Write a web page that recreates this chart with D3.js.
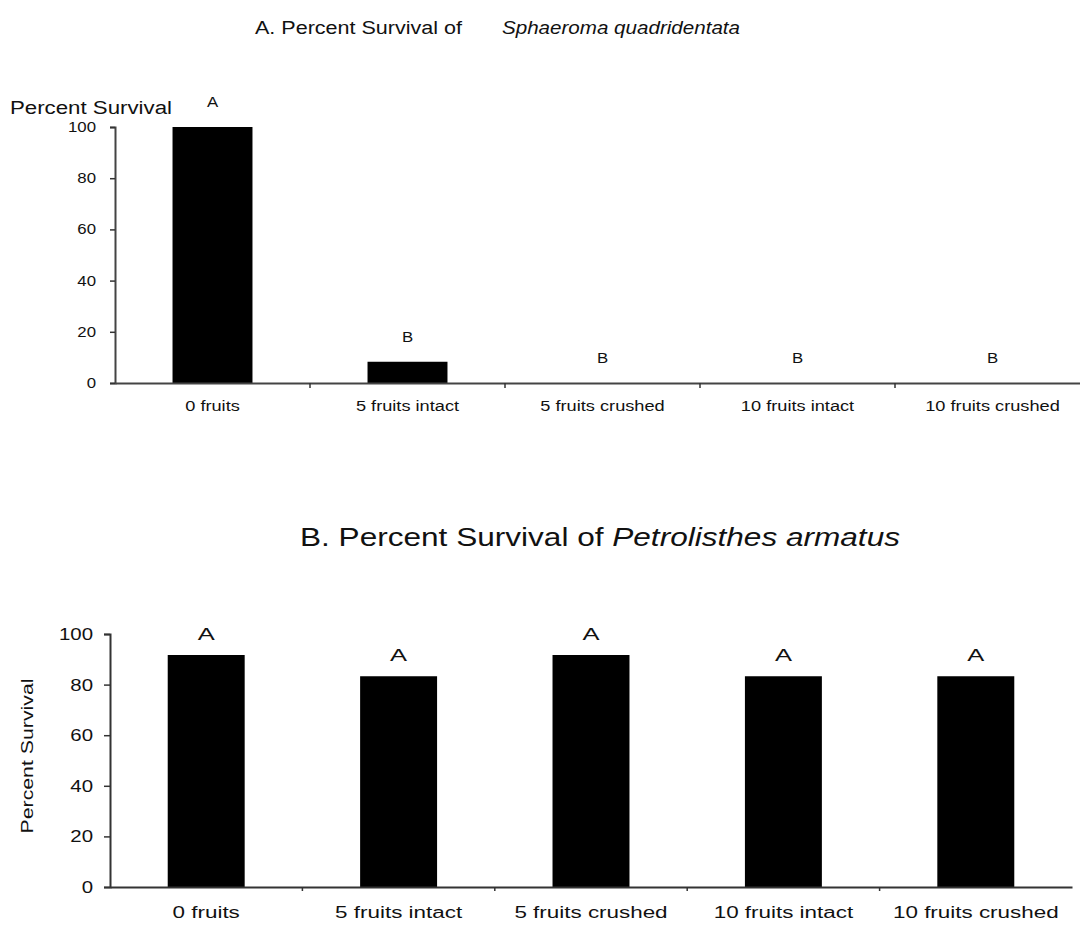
<!DOCTYPE html>
<html>
<head>
<meta charset="utf-8">
<script src="https://cdn.jsdelivr.net/npm/d3@7"></script>
<style>
  body { margin: 0; background: #fff; }
  svg text { font-family: "Liberation Sans", Arial, sans-serif; fill: #111; }
</style>
</head>
<body>
<script>
// treatments (same in both panels)
var categories = ['0 fruits', '5 fruits intact', '5 fruits crushed', '10 fruits intact', '10 fruits crushed'];
// A: Sphaeroma quadridentata
var survivalA = [100, 8.3, 0, 0, 0];
var lettersA = ['A', 'B', 'B', 'B', 'B'];
// B: Petrolisthes armatus
var survivalB = [91.7, 83.3, 91.7, 83.3, 83.3];
var lettersB = ['A', 'A', 'A', 'A', 'A'];
var yTicks = [0, 20, 40, 60, 80, 100];

var svg = d3.select('body').append('svg')
  .attr('width', 1080)
  .attr('height', 925);

// the original figure's text is drawn wide, so widen glyphs a bit
function stretch(sel, k) {
  sel.each(function() {
    var w = this.getComputedTextLength();
    d3.select(this).attr('textLength', w * k).attr('lengthAdjust', 'spacingAndGlyphs');
  });
}

// ---- panel A
var xA = d3.scaleBand().domain(categories).range([115, 1090]).paddingInner(0.59).paddingOuter(0.295);
var yA = d3.scaleLinear().domain([0, 100]).range([383, 127]);

svg.append('text')
  .attr('x', 255).attr('y', 34)
  .attr('textLength', 207).attr('lengthAdjust', 'spacingAndGlyphs')
  .style('font-size', '18px')
  .text('A.  Percent Survival of');
svg.append('text')
  .attr('x', 502).attr('y', 34)
  .attr('textLength', 238).attr('lengthAdjust', 'spacingAndGlyphs')
  .style('font-size', '18px').style('font-style', 'italic')
  .text('Sphaeroma  quadridentata');

svg.append('text')
  .attr('x', 10).attr('y', 114)
  .attr('textLength', 162).attr('lengthAdjust', 'spacingAndGlyphs')
  .style('font-size', '18px')
  .text('Percent Survival');

svg.selectAll('rect.barA')
  .data(survivalA)
  .enter().append('rect')
    .attr('class', 'barA')
    .attr('x', (d, i) => xA(categories[i]))
    .attr('width', xA.bandwidth())
    .attr('y', d => yA(d))
    .attr('height', d => yA(0) - yA(d))
    .attr('fill', '#000');

svg.selectAll('text.letA')
  .data(lettersA)
  .enter().append('text')
    .attr('class', 'letA')
    .attr('x', (d, i) => xA(categories[i]) + xA.bandwidth() / 2)
    .attr('y', (d, i) => yA(survivalA[i]) - 20)
    .attr('text-anchor', 'middle')
    .style('font-size', '14px')
    .text(d => d)
    .call(stretch, 1.2);

var yAxisA = svg.append('g')
  .attr('transform', 'translate(115,0)')
  .call(d3.axisLeft(yA).tickValues(yTicks).tickSize(5).tickPadding(14));
var xAxisA = svg.append('g')
  .attr('transform', 'translate(0,383)')
  .call(d3.axisBottom(xA).tickSize(0).tickPadding(18));
// category separators
xAxisA.selectAll('line.sep')
  .data(categories.slice(1))
  .enter().append('line')
    .attr('class', 'sep')
    .attr('x1', d => xA(d) - xA.step() * xA.paddingInner() / 2)
    .attr('x2', d => xA(d) - xA.step() * xA.paddingInner() / 2)
    .attr('y1', 0).attr('y2', 5)
    .attr('stroke', '#333').attr('stroke-width', 1.5);

[yAxisA, xAxisA].forEach(g => {
  g.select('.domain').attr('stroke', '#444').attr('stroke-width', 2);
  g.selectAll('.tick line').attr('stroke', '#333').attr('stroke-width', 1.5);
  g.selectAll('.tick text').style('font-size', '14px').attr('fill', '#111');
});
yAxisA.selectAll('.tick text').call(stretch, 1.2);
xAxisA.selectAll('.tick text').call(stretch, 1.3);

// ---- panel B
var xB = d3.scaleBand().domain(categories).range([110, 1072]).paddingInner(0.6).paddingOuter(0.3);
var yB = d3.scaleLinear().domain([0, 100]).range([887, 634]);

var tB = svg.append('text')
  .attr('x', 300).attr('y', 546)
  .attr('textLength', 600).attr('lengthAdjust', 'spacingAndGlyphs')
  .style('font-size', '25px');
tB.append('tspan').text('B.  Percent Survival of ');
tB.append('tspan').style('font-style', 'italic').text('Petrolisthes armatus');

svg.append('text')
  .attr('transform', 'translate(33,756) rotate(-90)')
  .attr('text-anchor', 'middle')
  .attr('textLength', 155).attr('lengthAdjust', 'spacingAndGlyphs')
  .style('font-size', '17px')
  .text('Percent Survival');

svg.selectAll('rect.barB')
  .data(survivalB)
  .enter().append('rect')
    .attr('class', 'barB')
    .attr('x', (d, i) => xB(categories[i]))
    .attr('width', xB.bandwidth())
    .attr('y', d => yB(d))
    .attr('height', d => yB(0) - yB(d))
    .attr('fill', '#000');

svg.selectAll('text.letB')
  .data(lettersB)
  .enter().append('text')
    .attr('class', 'letB')
    .attr('x', (d, i) => xB(categories[i]) + xB.bandwidth() / 2)
    .attr('y', (d, i) => yB(survivalB[i]) - 15)
    .attr('text-anchor', 'middle')
    .style('font-size', '17px')
    .text(d => d)
    .call(stretch, 1.5);

var yAxisB = svg.append('g')
  .attr('transform', 'translate(110,0)')
  .call(d3.axisLeft(yB).tickValues(yTicks).tickSize(6).tickPadding(11));
var xAxisB = svg.append('g')
  .attr('transform', 'translate(0,887)')
  .call(d3.axisBottom(xB).tickSize(0).tickPadding(20));
xAxisB.selectAll('line.sep')
  .data(categories.slice(1))
  .enter().append('line')
    .attr('class', 'sep')
    .attr('x1', d => xB(d) - xB.step() * xB.paddingInner() / 2)
    .attr('x2', d => xB(d) - xB.step() * xB.paddingInner() / 2)
    .attr('y1', 0).attr('y2', 4)
    .attr('stroke', '#333').attr('stroke-width', 1.5);

[yAxisB, xAxisB].forEach(g => {
  g.select('.domain').attr('stroke', '#333').attr('stroke-width', 2);
  g.selectAll('.tick line').attr('stroke', '#333').attr('stroke-width', 1.5);
  g.selectAll('.tick text').style('font-size', '17px').attr('fill', '#111');
});
yAxisB.selectAll('.tick text').call(stretch, 1.2);
xAxisB.selectAll('.tick text').style('font-size', '16px').call(stretch, 1.4);
</script>
</body>
</html>
